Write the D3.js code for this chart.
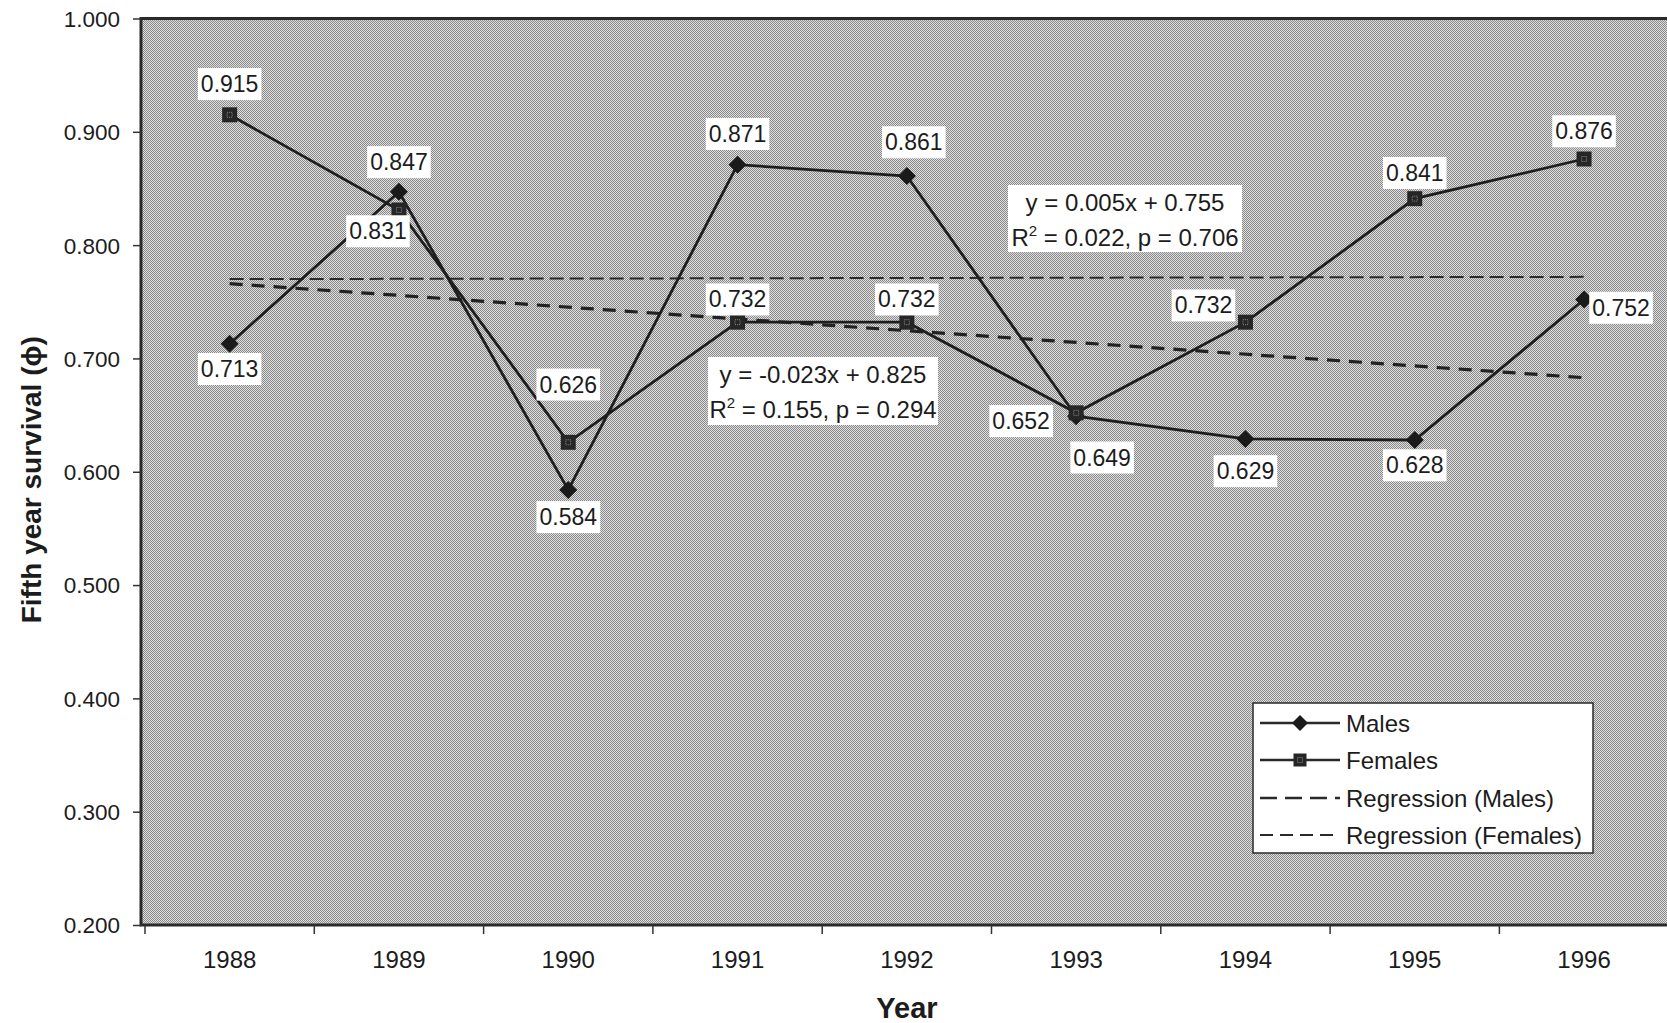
<!DOCTYPE html>
<html>
<head>
<meta charset="utf-8">
<script src="https://cdn.jsdelivr.net/npm/d3@7"></script>
<style>
  html, body { margin: 0; padding: 0; background: #fff; }
  svg { display: block; font-family: "Liberation Sans", Arial, sans-serif; }
</style>
</head>
<body>
<div id="chart"></div>
<script>
// ---- data ----
const YEARS = ["1988", "1989", "1990", "1991", "1992", "1993", "1994", "1995", "1996"];
const MALES = [0.713, 0.847, 0.584, 0.871, 0.861, 0.649, 0.629, 0.628, 0.752];
const FEMALES = [0.915, 0.831, 0.626, 0.732, 0.732, 0.652, 0.732, 0.841, 0.876];
// regression lines (end points, first and last year)
const REG_MALES = [0.770, 0.772];
const REG_FEMALES = [0.766, 0.683];
const Y_TICKS = [0.2, 0.3, 0.4, 0.5, 0.6, 0.7, 0.8, 0.9, 1.0];
const EQ_MALES = ["y = 0.005x + 0.755", "= 0.022, p = 0.706"];
const EQ_FEMALES = ["y = -0.023x + 0.825", "= 0.155, p = 0.294"];

// label placement (offset from point to label centre)
const MALE_LABEL_OFF = [[0, 25], [0, -30], [0, 27], [0, -31], [7, -34], [26, 41], [0, 32], [0, 25], [37, 8]];
const FEMALE_LABEL_OFF = [[0, -31], [-21, 21], [0, -58], [0, -23], [0, -23], [-55, 8], [-42, -17], [0, -26], [0, -28]];

const W = 1667, H = 1023;
const plot = { left: 141, top: 18.5, right: 1672, bottom: 925 };
const INK = "#1c1c1c";

const svg = d3.select("#chart").append("svg")
  .attr("width", W).attr("height", H);

// dithered grey fill like the scanned original
const defs = svg.append("defs");
const pat = defs.append("pattern")
  .attr("id", "dither").attr("width", 2).attr("height", 2)
  .attr("patternUnits", "userSpaceOnUse");
pat.append("rect").attr("width", 2).attr("height", 2).attr("fill", "#dedede");
pat.append("rect").attr("x", 0).attr("y", 0).attr("width", 1).attr("height", 1).attr("fill", "#8a8a8a");
pat.append("rect").attr("x", 1).attr("y", 1).attr("width", 1).attr("height", 1).attr("fill", "#8a8a8a");

const x = d3.scaleBand().domain(YEARS).range([145, 145 + 9 * 169.3]);
const y = d3.scaleLinear().domain([0.2, 1.0]).range([plot.bottom, plot.top]);
const cx = (d) => x(d) + x.bandwidth() / 2;

svg.append("rect")
  .attr("x", plot.left).attr("y", plot.top)
  .attr("width", plot.right - plot.left).attr("height", plot.bottom - plot.top)
  .attr("fill", "url(#dither)")
  .attr("stroke", "#2a2a2a").attr("stroke-width", 3);

// y axis
const yAxis = svg.append("g")
  .attr("transform", `translate(${plot.left},0)`)
  .call(d3.axisLeft(y).tickValues(Y_TICKS).tickFormat(d3.format(".3f")).tickSize(8).tickSizeOuter(0));
yAxis.select(".domain").remove();
yAxis.selectAll("line").attr("stroke", "#333").attr("stroke-width", 1.5);
yAxis.selectAll("text")
  .attr("font-size", 22.5).attr("fill", INK)
  .attr("x", -21).attr("dy", "0.35em")
  .style("font-family", "Liberation Sans, Arial, sans-serif");

// x axis: ticks between categories
const xAxisG = svg.append("g").attr("transform", `translate(0,${plot.bottom})`);
xAxisG.selectAll("line")
  .data(d3.range(YEARS.length + 1))
  .join("line")
  .attr("x1", (i) => 145 + i * x.step()).attr("x2", (i) => 145 + i * x.step())
  .attr("y1", 0).attr("y2", 9)
  .attr("stroke", "#333").attr("stroke-width", 1.5);
xAxisG.selectAll("text")
  .data(YEARS)
  .join("text")
  .attr("x", (d) => cx(d))
  .attr("y", 43)
  .attr("text-anchor", "middle")
  .attr("font-size", 24).attr("fill", INK)
  .text((d) => d);

// axis titles
svg.append("text")
  .attr("x", 907).attr("y", 1018)
  .attr("text-anchor", "middle")
  .attr("font-size", 29).attr("font-weight", "bold").attr("fill", INK)
  .text("Year");

svg.append("text")
  .attr("transform", `translate(41,${(plot.top + plot.bottom) / 2 + 8}) rotate(-90)`)
  .attr("text-anchor", "middle")
  .attr("font-size", 28).attr("font-weight", "bold").attr("fill", INK)
  .text("Fifth year survival (\u03d5)");

// regression lines
const regLine = d3.line().x((d) => cx(d[0])).y((d) => y(d[1]));
const first = YEARS[0], last = YEARS[YEARS.length - 1];
svg.append("path")
  .attr("d", regLine([[first, REG_MALES[0]], [last, REG_MALES[1]]]))
  .attr("fill", "none").attr("stroke", "#2a2a2a")
  .attr("stroke-width", 2).attr("stroke-dasharray", "14,6");
svg.append("path")
  .attr("d", regLine([[first, REG_FEMALES[0]], [last, REG_FEMALES[1]]]))
  .attr("fill", "none").attr("stroke", "#222")
  .attr("stroke-width", 3.2).attr("stroke-dasharray", "13,9");

// data lines
const line = d3.line().x((d, i) => cx(YEARS[i])).y((d) => y(d));
svg.append("path").attr("d", line(MALES))
  .attr("fill", "none").attr("stroke", "#1e1e1e").attr("stroke-width", 2.8);
svg.append("path").attr("d", line(FEMALES))
  .attr("fill", "none").attr("stroke", "#1e1e1e").attr("stroke-width", 2.8);

function diamond(g, px, py, r) {
  g.append("path")
    .attr("d", `M${px},${py - r}L${px + r},${py}L${px},${py + r}L${px - r},${py}Z`)
    .attr("fill", "#1a1a1a");
}
function square(g, px, py, s) {
  g.append("rect")
    .attr("x", px - s / 2).attr("y", py - s / 2)
    .attr("width", s).attr("height", s)
    .attr("fill", "#262626");
  g.append("rect")
    .attr("x", px - 2.5).attr("y", py - 2.5)
    .attr("width", 5).attr("height", 5)
    .attr("fill", "none").attr("stroke", "#888").attr("stroke-width", 1)
    .attr("stroke-dasharray", "1,1");
}

const marks = svg.append("g");
MALES.forEach((v, i) => diamond(marks, cx(YEARS[i]), y(v), 9));
FEMALES.forEach((v, i) => square(marks, cx(YEARS[i]), y(v), 15));

// value labels in white boxes
const labels = svg.append("g");
function addLabel(px, py, txt) {
  const t = labels.append("text")
    .attr("x", px).attr("y", py)
    .attr("text-anchor", "middle").attr("dy", "0.36em")
    .attr("font-size", 23).attr("fill", INK)
    .text(txt);
  const b = t.node().getBBox();
  labels.insert("rect", "text")
    .attr("x", b.x - 3).attr("y", b.y - 3)
    .attr("width", b.width + 6).attr("height", b.height + 6)
    .attr("fill", "#fff");
}
MALES.forEach((v, i) => {
  const o = MALE_LABEL_OFF[i];
  addLabel(cx(YEARS[i]) + o[0], y(v) + o[1], v.toFixed(3));
});
FEMALES.forEach((v, i) => {
  const o = FEMALE_LABEL_OFF[i];
  addLabel(cx(YEARS[i]) + o[0], y(v) + o[1], v.toFixed(3));
});

// regression equations
function eqBox(x0, y0, w, h, lines) {
  const g = svg.append("g");
  g.append("rect").attr("x", x0).attr("y", y0).attr("width", w).attr("height", h).attr("fill", "#fff");
  const mid = x0 + w / 2;
  g.append("text").attr("x", mid).attr("y", y0 + 26)
    .attr("text-anchor", "middle").attr("font-size", 24).attr("fill", INK)
    .text(lines[0]);
  const t2 = g.append("text").attr("x", mid).attr("y", y0 + 61)
    .attr("text-anchor", "middle").attr("font-size", 24).attr("fill", INK);
  t2.append("tspan").text("R");
  t2.append("tspan").attr("font-size", 15).attr("dy", -10).text("2");
  t2.append("tspan").attr("dy", 10).text(" " + lines[1]);
}
eqBox(1008, 185, 234, 67, EQ_MALES);
eqBox(708, 357, 230, 68, EQ_FEMALES);

// legend
const leg = svg.append("g").attr("transform", "translate(1253,703)");
leg.append("rect").attr("width", 340).attr("height", 150)
  .attr("fill", "#fff").attr("stroke", "#2a2a2a").attr("stroke-width", 1.5);
const legItems = ["Males", "Females", "Regression (Males)", "Regression (Females)"];
const rowY = [20, 57, 95, 132];
legItems.forEach((name, i) => {
  const ly = rowY[i];
  const ln = leg.append("line")
    .attr("x1", 7).attr("x2", 87).attr("y1", ly).attr("y2", ly)
    .attr("stroke", "#2a2a2a");
  if (i < 2) ln.attr("stroke-width", 2.4);
  if (i === 2) ln.attr("stroke-width", 2.4).attr("stroke-dasharray", "17,8");
  if (i === 3) ln.attr("stroke-width", 2).attr("stroke-dasharray", "13,7");
  if (i === 0) diamond(leg, 47, ly, 8);
  if (i === 1) square(leg, 47, ly, 13);
  leg.append("text").attr("x", 93).attr("y", ly).attr("dy", "0.36em")
    .attr("font-size", 24).attr("fill", INK).text(name);
});
</script>
</body>
</html>
